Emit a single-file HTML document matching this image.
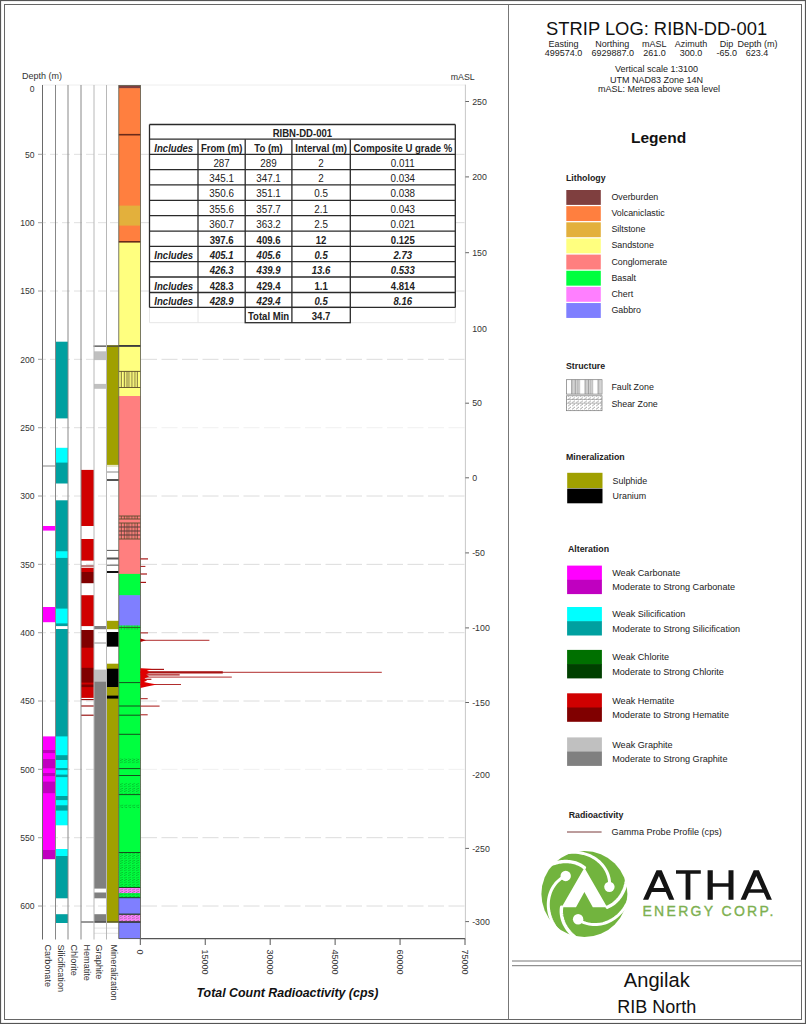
<!DOCTYPE html><html><head><meta charset="utf-8"><style>html,body{margin:0;padding:0;background:#fff;width:806px;height:1024px;overflow:hidden}svg{display:block}text{font-family:"Liberation Sans",sans-serif}</style></head><body>
<svg width="806" height="1024" viewBox="0 0 806 1024">
<defs>
<pattern id="fault" patternUnits="userSpaceOnUse" x="118.8" y="0" width="21" height="40">
<rect width="21" height="40" fill="none"/>
<path d="M2.5 0V40M5.5 0V40M8 0V40M10 0V40M13 0V40M16 0V40M18.5 0V40" stroke="#5a4a2a" stroke-width="0.8"/>
</pattern>
<pattern id="shear" patternUnits="userSpaceOnUse" width="4" height="2.4">
<path d="M0 2.1L3.2 0.9" stroke="#0a4a0a" stroke-width="0.6" opacity="0.6"/>
</pattern>
<pattern id="faultL" patternUnits="userSpaceOnUse" x="566.2" y="0" width="36" height="40">
<rect x="5.6" y="0" width="3.7" height="40" fill="#d4d4d4"/><rect x="19" y="0" width="3.4" height="40" fill="#d4d4d4"/><rect x="32" y="0" width="3.2" height="40" fill="#d4d4d4"/>
<path d="M5.6 0V40M9.3 0V40M11.2 0V40M13 0V40M19 0V40M22.4 0V40M24.2 0V40M26.1 0V40M32 0V40" stroke="#777" stroke-width="0.8"/>
</pattern>
<pattern id="shearL" patternUnits="userSpaceOnUse" width="4" height="3.2">
<path d="M0 2.8L3 0.6" stroke="#777" stroke-width="0.7"/>
</pattern>
</defs>
<rect x="0.5" y="0.5" width="805" height="1023" fill="none" stroke="#555" stroke-width="1.2"/>
<rect x="4.5" y="4.5" width="797" height="1015" fill="none" stroke="#666" stroke-width="1"/>
<line x1="508.5" y1="4.5" x2="508.5" y2="1019.5" stroke="#777" stroke-width="1"/>
<line x1="512" y1="961" x2="801" y2="961" stroke="#777" stroke-width="1"/>
<line x1="512" y1="965.7" x2="801" y2="965.7" stroke="#777" stroke-width="1"/>
<text x="656.6" y="35.2" font-size="18.36" text-anchor="middle" fill="#111">STRIP LOG: RIBN-DD-001</text>
<text x="563.5" y="46.5" font-size="9" text-anchor="middle" fill="#222">Easting</text>
<text x="612.2" y="46.5" font-size="9" text-anchor="middle" fill="#222">Northing</text>
<text x="654.3" y="46.5" font-size="9" text-anchor="middle" fill="#222">mASL</text>
<text x="690.9" y="46.5" font-size="9" text-anchor="middle" fill="#222">Azimuth</text>
<text x="726.5" y="46.5" font-size="9" text-anchor="middle" fill="#222">Dip</text>
<text x="757.4" y="46.5" font-size="9" text-anchor="middle" fill="#222">Depth (m)</text>
<text x="563.4" y="56.2" font-size="9" text-anchor="middle" fill="#222">499574.0</text>
<text x="612.7" y="56.2" font-size="9" text-anchor="middle" fill="#222">6929887.0</text>
<text x="654.5" y="56.2" font-size="9" text-anchor="middle" fill="#222">261.0</text>
<text x="691" y="56.2" font-size="9" text-anchor="middle" fill="#222">300.0</text>
<text x="726.7" y="56.2" font-size="9" text-anchor="middle" fill="#222">-65.0</text>
<text x="757" y="56.2" font-size="9" text-anchor="middle" fill="#222">623.4</text>
<text x="656.6" y="72" font-size="9" text-anchor="middle" fill="#222">Vertical scale 1:3100</text>
<text x="656.6" y="82.6" font-size="9" text-anchor="middle" fill="#222">UTM NAD83 Zone 14N</text>
<text x="659" y="92.3" font-size="9" text-anchor="middle" fill="#222">mASL: Metres above sea level</text>
<text x="631" y="143.4" font-size="15.5" font-weight="bold" fill="#111">Legend</text>
<text x="566" y="180.7" font-size="8.8" font-weight="bold" fill="#222">Lithology</text>
<rect x="566.3" y="190.00" width="34.5" height="14.9" fill="#7F3F3F"/>
<text x="611.4" y="199.90" font-size="8.9" fill="#222">Overburden</text>
<rect x="566.3" y="206.15" width="34.5" height="14.9" fill="#FF7F3F"/>
<text x="611.4" y="216.05" font-size="8.9" fill="#222">Volcaniclastic</text>
<rect x="566.3" y="222.30" width="34.5" height="14.9" fill="#E3B03C"/>
<text x="611.4" y="232.20" font-size="8.9" fill="#222">Siltstone</text>
<rect x="566.3" y="238.45" width="34.5" height="14.9" fill="#FFFF7F"/>
<text x="611.4" y="248.35" font-size="8.9" fill="#222">Sandstone</text>
<rect x="566.3" y="254.60" width="34.5" height="14.9" fill="#FF7F7F"/>
<text x="611.4" y="264.50" font-size="8.9" fill="#222">Conglomerate</text>
<rect x="566.3" y="270.75" width="34.5" height="14.9" fill="#00FF3F"/>
<text x="611.4" y="280.65" font-size="8.9" fill="#222">Basalt</text>
<rect x="566.3" y="286.90" width="34.5" height="14.9" fill="#FF7FFF"/>
<text x="611.4" y="296.80" font-size="8.9" fill="#222">Chert</text>
<rect x="566.3" y="303.05" width="34.5" height="14.9" fill="#7F7FFF"/>
<text x="611.4" y="312.95" font-size="8.9" fill="#222">Gabbro</text>
<text x="566" y="369.3" font-size="8.8" font-weight="bold" fill="#222">Structure</text>
<rect x="566.5" y="379.7" width="35.5" height="14.4" fill="url(#faultL)" stroke="#777" stroke-width="0.7"/>
<rect x="566.5" y="395.8" width="35.5" height="14.9" fill="url(#shearL)" stroke="#777" stroke-width="0.7"/>
<path d="M566.5 399.5H602M566.5 403.2H602" stroke="#8a8a8a" stroke-width="0.6"/>
<text x="611.4" y="389.6" font-size="8.9" fill="#222">Fault Zone</text>
<text x="611.4" y="406.5" font-size="8.9" fill="#222">Shear Zone</text>
<text x="566" y="459.9" font-size="8.8" font-weight="bold" fill="#222">Mineralization</text>
<rect x="567.2" y="472.8" width="35.3" height="15.3" fill="#A0A000"/>
<rect x="567.2" y="488.6" width="35.3" height="14.7" fill="#000"/>
<text x="612.6" y="484" font-size="8.9" fill="#222">Sulphide</text>
<text x="612.6" y="499.3" font-size="8.9" fill="#222">Uranium</text>
<text x="568" y="552.3" font-size="8.8" font-weight="bold" fill="#222">Alteration</text>
<rect x="567.1" y="565.60" width="34.8" height="14.8" fill="#FF00FF"/>
<rect x="567.1" y="579.80" width="34.8" height="14.3" fill="#C000C0"/>
<text x="612.2" y="575.90" font-size="9.1" fill="#222">Weak Carbonate</text>
<text x="612.2" y="590.40" font-size="9.1" fill="#222">Moderate to Strong Carbonate</text>
<rect x="567.1" y="607.00" width="34.8" height="14.8" fill="#00FFFF"/>
<rect x="567.1" y="621.20" width="34.8" height="14.3" fill="#00A0A0"/>
<text x="612.2" y="617.30" font-size="9.1" fill="#222">Weak Silicification</text>
<text x="612.2" y="631.80" font-size="9.1" fill="#222">Moderate to Strong Silicification</text>
<rect x="567.1" y="649.90" width="34.8" height="14.8" fill="#007000"/>
<rect x="567.1" y="664.10" width="34.8" height="14.3" fill="#004000"/>
<text x="612.2" y="660.20" font-size="9.1" fill="#222">Weak Chlorite</text>
<text x="612.2" y="674.70" font-size="9.1" fill="#222">Moderate to Strong Chlorite</text>
<rect x="567.1" y="693.30" width="34.8" height="14.8" fill="#D00000"/>
<rect x="567.1" y="707.50" width="34.8" height="14.3" fill="#800000"/>
<text x="612.2" y="703.60" font-size="9.1" fill="#222">Weak Hematite</text>
<text x="612.2" y="718.10" font-size="9.1" fill="#222">Moderate to Strong Hematite</text>
<rect x="567.1" y="737.40" width="34.8" height="14.8" fill="#C0C0C0"/>
<rect x="567.1" y="751.60" width="34.8" height="14.3" fill="#808080"/>
<text x="612.2" y="747.70" font-size="9.1" fill="#222">Weak Graphite</text>
<text x="612.2" y="762.20" font-size="9.1" fill="#222">Moderate to Strong Graphite</text>
<text x="568.7" y="818.4" font-size="8.8" font-weight="bold" fill="#222">Radioactivity</text>
<line x1="567" y1="832" x2="601.6" y2="832" stroke="#7a3a3a" stroke-width="1"/>
<text x="611.6" y="835" font-size="9.1" fill="#222">Gamma Probe Profile (cps)</text>
<text x="656.8" y="987.3" font-size="20.1" text-anchor="middle" fill="#111">Angilak</text>
<text x="656.8" y="1013.3" font-size="18" text-anchor="middle" fill="#111">RIB North</text>
<line x1="38" y1="154.34" x2="140" y2="154.34" stroke="#dcdcdc" stroke-width="0.9" stroke-dasharray="8 4"/>
<line x1="141" y1="154.34" x2="465" y2="154.34" stroke="#d8d8d8" stroke-width="0.9" stroke-dasharray="16 4.5"/>
<line x1="38" y1="222.67" x2="140" y2="222.67" stroke="#dcdcdc" stroke-width="0.9" stroke-dasharray="8 4"/>
<line x1="141" y1="222.67" x2="465" y2="222.67" stroke="#d8d8d8" stroke-width="0.9" stroke-dasharray="16 4.5"/>
<line x1="38" y1="291.00" x2="140" y2="291.00" stroke="#dcdcdc" stroke-width="0.9" stroke-dasharray="8 4"/>
<line x1="141" y1="291.00" x2="465" y2="291.00" stroke="#d8d8d8" stroke-width="0.9" stroke-dasharray="16 4.5"/>
<line x1="38" y1="359.34" x2="140" y2="359.34" stroke="#dcdcdc" stroke-width="0.9" stroke-dasharray="8 4"/>
<line x1="141" y1="359.34" x2="465" y2="359.34" stroke="#d8d8d8" stroke-width="0.9" stroke-dasharray="16 4.5"/>
<line x1="38" y1="427.68" x2="140" y2="427.68" stroke="#dcdcdc" stroke-width="0.9" stroke-dasharray="8 4"/>
<line x1="141" y1="427.68" x2="465" y2="427.68" stroke="#eeeeee" stroke-width="0.9" stroke-dasharray="16 4.5"/>
<line x1="38" y1="496.01" x2="140" y2="496.01" stroke="#dcdcdc" stroke-width="0.9" stroke-dasharray="8 4"/>
<line x1="141" y1="496.01" x2="465" y2="496.01" stroke="#d8d8d8" stroke-width="0.9" stroke-dasharray="16 4.5"/>
<line x1="38" y1="564.35" x2="140" y2="564.35" stroke="#dcdcdc" stroke-width="0.9" stroke-dasharray="8 4"/>
<line x1="141" y1="564.35" x2="465" y2="564.35" stroke="#d8d8d8" stroke-width="0.9" stroke-dasharray="16 4.5"/>
<line x1="38" y1="632.68" x2="140" y2="632.68" stroke="#dcdcdc" stroke-width="0.9" stroke-dasharray="8 4"/>
<line x1="141" y1="632.68" x2="465" y2="632.68" stroke="#d8d8d8" stroke-width="0.9" stroke-dasharray="16 4.5"/>
<line x1="38" y1="701.01" x2="140" y2="701.01" stroke="#dcdcdc" stroke-width="0.9" stroke-dasharray="8 4"/>
<line x1="141" y1="701.01" x2="465" y2="701.01" stroke="#d8d8d8" stroke-width="0.9" stroke-dasharray="16 4.5"/>
<line x1="38" y1="769.35" x2="140" y2="769.35" stroke="#dcdcdc" stroke-width="0.9" stroke-dasharray="8 4"/>
<line x1="141" y1="769.35" x2="465" y2="769.35" stroke="#eeeeee" stroke-width="0.9" stroke-dasharray="16 4.5"/>
<line x1="38" y1="837.69" x2="140" y2="837.69" stroke="#dcdcdc" stroke-width="0.9" stroke-dasharray="8 4"/>
<line x1="141" y1="837.69" x2="465" y2="837.69" stroke="#d8d8d8" stroke-width="0.9" stroke-dasharray="16 4.5"/>
<line x1="38" y1="906.02" x2="140" y2="906.02" stroke="#dcdcdc" stroke-width="0.9" stroke-dasharray="8 4"/>
<line x1="141" y1="906.02" x2="465" y2="906.02" stroke="#d8d8d8" stroke-width="0.9" stroke-dasharray="16 4.5"/>
<line x1="42" y1="85" x2="465" y2="85" stroke="#ececec" stroke-width="0.9"/>
<line x1="42.5" y1="466.00" x2="55.5" y2="466.00" stroke="#666" stroke-width="0.8"/>
<rect x="42.5" y="526.00" width="13.00" height="4.60" fill="#FF00FF"/>
<rect x="42.5" y="607.00" width="13.00" height="15.20" fill="#FF00FF"/>
<rect x="42.5" y="736.40" width="13.00" height="114.20" fill="#FF00FF"/>
<rect x="42.5" y="750.00" width="13.00" height="3.10" fill="#C000C0"/>
<rect x="42.5" y="759.00" width="13.00" height="9.30" fill="#C000C0"/>
<rect x="42.5" y="773.00" width="13.00" height="3.10" fill="#C000C0"/>
<rect x="42.5" y="781.60" width="13.00" height="11.60" fill="#C000C0"/>
<rect x="42.5" y="850.00" width="13.00" height="9.20" fill="#C000C0"/>
<rect x="55.5" y="341.70" width="12.50" height="76.70" fill="#00A0A0"/>
<rect x="55.5" y="447.80" width="12.50" height="15.40" fill="#00FFFF"/>
<rect x="55.5" y="462.60" width="12.50" height="20.90" fill="#00A0A0"/>
<rect x="55.5" y="500.30" width="12.50" height="51.60" fill="#00A0A0"/>
<rect x="55.5" y="551.30" width="12.50" height="7.20" fill="#00FFFF"/>
<rect x="55.5" y="557.90" width="12.50" height="51.30" fill="#00A0A0"/>
<rect x="55.5" y="608.60" width="12.50" height="15.40" fill="#00FFFF"/>
<rect x="55.5" y="623.40" width="12.50" height="2.70" fill="#00A0A0"/>
<rect x="55.5" y="629.00" width="12.50" height="108.00" fill="#00A0A0"/>
<rect x="55.5" y="736.40" width="12.50" height="88.90" fill="#00FFFF"/>
<rect x="55.5" y="755.20" width="12.50" height="4.80" fill="#00A0A0"/>
<rect x="55.5" y="768.00" width="12.50" height="2.10" fill="#00A0A0"/>
<rect x="55.5" y="774.60" width="12.50" height="2.50" fill="#00A0A0"/>
<rect x="55.5" y="796.00" width="12.50" height="4.10" fill="#00A0A0"/>
<rect x="55.5" y="805.30" width="12.50" height="5.30" fill="#00A0A0"/>
<rect x="55.5" y="849.00" width="12.50" height="7.60" fill="#00FFFF"/>
<rect x="55.5" y="856.00" width="12.50" height="42.30" fill="#00A0A0"/>
<rect x="55.5" y="914.20" width="12.50" height="8.80" fill="#00A0A0"/>
<rect x="81" y="469.90" width="13.00" height="56.10" fill="#D00000"/>
<rect x="81" y="539.00" width="13.00" height="21.60" fill="#D00000"/>
<rect x="81" y="567.80" width="13.00" height="4.80" fill="#D00000"/>
<rect x="81" y="572.00" width="13.00" height="11.20" fill="#800000"/>
<rect x="81" y="595.20" width="13.00" height="30.90" fill="#D00000"/>
<rect x="81" y="630.00" width="13.00" height="18.30" fill="#800000"/>
<rect x="81" y="647.70" width="13.00" height="20.70" fill="#D00000"/>
<rect x="81" y="667.80" width="13.00" height="15.40" fill="#800000"/>
<rect x="81" y="682.60" width="13.00" height="15.30" fill="#D00000"/>
<rect x="81" y="684.50" width="13.00" height="2.60" fill="#800000"/>
<line x1="81" y1="566.00" x2="94" y2="566.00" stroke="#800000" stroke-width="1"/>
<line x1="81" y1="699.60" x2="94" y2="699.60" stroke="#900000" stroke-width="1.1"/>
<line x1="81" y1="706.00" x2="94" y2="706.00" stroke="#900000" stroke-width="1.1"/>
<line x1="81" y1="715.20" x2="94" y2="715.20" stroke="#900000" stroke-width="1.1"/>
<rect x="94" y="351.30" width="12.50" height="8.80" fill="#C0C0C0"/>
<rect x="94" y="383.90" width="12.50" height="4.90" fill="#C0C0C0"/>
<rect x="94" y="626.00" width="12.50" height="3.20" fill="#808080"/>
<rect x="94" y="669.60" width="12.50" height="12.70" fill="#C0C0C0"/>
<rect x="94" y="681.70" width="12.50" height="206.90" fill="#808080"/>
<rect x="94" y="892.50" width="12.50" height="5.80" fill="#808080"/>
<rect x="94" y="914.20" width="12.50" height="8.40" fill="#808080"/>
<line x1="94" y1="643.00" x2="106.5" y2="643.00" stroke="#777" stroke-width="0.8"/>
<rect x="106.5" y="345.20" width="12.30" height="119.70" fill="#A0A000"/>
<rect x="106.5" y="620.80" width="12.30" height="8.40" fill="#A0A000"/>
<rect x="106.5" y="632.00" width="12.30" height="14.60" fill="#000"/>
<rect x="106.5" y="663.70" width="12.30" height="5.60" fill="#A0A000"/>
<rect x="106.5" y="668.70" width="12.30" height="18.90" fill="#000"/>
<rect x="106.5" y="687.00" width="12.30" height="9.20" fill="#A0A000"/>
<rect x="106.5" y="695.60" width="12.30" height="3.60" fill="#000"/>
<rect x="106.5" y="698.60" width="12.30" height="224.00" fill="#A0A000"/>
<line x1="106.5" y1="466.00" x2="118.8" y2="466.00" stroke="#cccc88" stroke-width="1"/>
<line x1="106.5" y1="472.00" x2="118.8" y2="472.00" stroke="#888" stroke-width="1"/>
<line x1="106.5" y1="480.00" x2="118.8" y2="480.00" stroke="#555" stroke-width="2"/>
<line x1="106.5" y1="550.40" x2="118.8" y2="550.40" stroke="#555" stroke-width="1"/>
<line x1="106.5" y1="558.50" x2="118.8" y2="558.50" stroke="#555" stroke-width="2"/>
<line x1="106.5" y1="565.20" x2="118.8" y2="565.20" stroke="#555" stroke-width="1"/>
<line x1="106.5" y1="572.00" x2="118.8" y2="572.00" stroke="#111" stroke-width="2"/>
<line x1="106.5" y1="646.50" x2="118.8" y2="646.50" stroke="#555" stroke-width="0.8"/>
<rect x="118.8" y="85.50" width="21.70" height="3.30" fill="#7F3F3F"/>
<rect x="118.8" y="88.20" width="21.70" height="118.00" fill="#FF7F3F"/>
<rect x="118.8" y="205.60" width="21.70" height="20.60" fill="#E3B03C"/>
<rect x="118.8" y="225.60" width="21.70" height="16.50" fill="#FF7F3F"/>
<rect x="118.8" y="241.50" width="21.70" height="130.50" fill="#FFFF7F"/>
<rect x="118.8" y="371.40" width="21.70" height="16.70" fill="#FFFF7F"/>
<rect x="118.8" y="387.50" width="21.70" height="9.10" fill="#FFFF7F"/>
<rect x="118.8" y="396.00" width="21.70" height="178.50" fill="#FF7F7F"/>
<rect x="118.8" y="573.90" width="21.70" height="21.90" fill="#00FF3F"/>
<rect x="118.8" y="595.20" width="21.70" height="30.90" fill="#7F7FFF"/>
<rect x="118.8" y="625.50" width="21.70" height="272.80" fill="#00FF3F"/>
<rect x="118.8" y="888.00" width="21.70" height="5.10" fill="#FF7FFF"/>
<rect x="118.8" y="897.70" width="21.70" height="17.10" fill="#7F7FFF"/>
<rect x="118.8" y="914.20" width="21.70" height="8.40" fill="#FF7FFF"/>
<rect x="118.8" y="922.00" width="21.70" height="17.10" fill="#7F7FFF"/>
<rect x="118.8" y="371.4" width="21.7" height="16.10" fill="url(#fault)"/>
<line x1="118.8" y1="371.40" x2="140.5" y2="371.40" stroke="#5a4a2a" stroke-width="0.9"/>
<line x1="118.8" y1="387.50" x2="140.5" y2="387.50" stroke="#5a4a2a" stroke-width="0.9"/>
<rect x="118.8" y="516" width="21.7" height="3.00" fill="url(#fault)"/>
<line x1="118.8" y1="516.00" x2="140.5" y2="516.00" stroke="#5a4a2a" stroke-width="0.9"/>
<line x1="118.8" y1="519.00" x2="140.5" y2="519.00" stroke="#5a4a2a" stroke-width="0.9"/>
<rect x="118.8" y="523" width="21.7" height="16.00" fill="url(#fault)"/>
<line x1="118.8" y1="523.00" x2="140.5" y2="523.00" stroke="#5a4a2a" stroke-width="0.9"/>
<line x1="118.8" y1="539.00" x2="140.5" y2="539.00" stroke="#5a4a2a" stroke-width="0.9"/>
<line x1="118.8" y1="527.00" x2="140.5" y2="527.00" stroke="#5a3a3a" stroke-width="1"/>
<line x1="118.8" y1="531.00" x2="140.5" y2="531.00" stroke="#5a3a3a" stroke-width="1"/>
<line x1="118.8" y1="535.00" x2="140.5" y2="535.00" stroke="#5a3a3a" stroke-width="1"/>
<line x1="118.8" y1="627.50" x2="140.5" y2="627.50" stroke="#1a5a1a" stroke-width="0.8"/>
<rect x="118.8" y="625.5" width="21.7" height="4" fill="url(#fault)" opacity="0.6"/>
<rect x="118.8" y="758" width="21.7" height="5.40" fill="url(#shear)"/>
<rect x="118.8" y="783.3" width="21.7" height="10.40" fill="url(#shear)"/>
<rect x="118.8" y="804" width="21.7" height="4.00" fill="url(#shear)"/>
<rect x="118.8" y="852.5" width="21.7" height="45.20" fill="url(#shear)"/>
<rect x="118.8" y="914.2" width="21.7" height="7.80" fill="url(#shear)"/>
<line x1="118.8" y1="134.70" x2="140.5" y2="134.70" stroke="#6a2a1a" stroke-width="1.6"/>
<line x1="118.8" y1="241.80" x2="140.5" y2="241.80" stroke="#6a2a1a" stroke-width="1.6"/>
<line x1="118.8" y1="345.80" x2="140.5" y2="345.80" stroke="#333" stroke-width="1.6"/>
<line x1="118.8" y1="682.60" x2="140.5" y2="682.60" stroke="#1a3a1a" stroke-width="0.9"/>
<line x1="118.8" y1="706.00" x2="140.5" y2="706.00" stroke="#1a3a1a" stroke-width="0.9"/>
<line x1="118.8" y1="715.20" x2="140.5" y2="715.20" stroke="#1a3a1a" stroke-width="0.9"/>
<line x1="118.8" y1="734.30" x2="140.5" y2="734.30" stroke="#1a3a1a" stroke-width="0.9"/>
<line x1="118.8" y1="768.60" x2="140.5" y2="768.60" stroke="#1a3a1a" stroke-width="0.9"/>
<line x1="118.8" y1="775.50" x2="140.5" y2="775.50" stroke="#1a3a1a" stroke-width="0.9"/>
<line x1="118.8" y1="794.60" x2="140.5" y2="794.60" stroke="#1a3a1a" stroke-width="0.9"/>
<line x1="118.8" y1="852.50" x2="140.5" y2="852.50" stroke="#1a3a1a" stroke-width="0.9"/>
<line x1="118.8" y1="887.50" x2="140.5" y2="887.50" stroke="#1a3a1a" stroke-width="0.9"/>
<line x1="118.8" y1="897.70" x2="140.5" y2="897.70" stroke="#1a3a1a" stroke-width="0.9"/>
<line x1="118.8" y1="914.20" x2="140.5" y2="914.20" stroke="#1a3a1a" stroke-width="1.2"/>
<line x1="118.8" y1="922.00" x2="140.5" y2="922.00" stroke="#1a3a1a" stroke-width="1.2"/>
<line x1="93.5" y1="346.10" x2="140.5" y2="346.10" stroke="#444" stroke-width="1.4"/>
<line x1="81" y1="922.00" x2="141" y2="922.00" stroke="#333" stroke-width="1"/>
<line x1="94" y1="928.10" x2="118.8" y2="928.10" stroke="#ddd" stroke-width="0.8"/>
<line x1="94" y1="933.30" x2="118.8" y2="933.30" stroke="#ddd" stroke-width="0.8"/>
<line x1="42.5" y1="85" x2="42.5" y2="939.5" stroke="#6a6a6a" stroke-width="1"/>
<line x1="55.5" y1="85" x2="55.5" y2="939.5" stroke="#888" stroke-width="1"/>
<line x1="68" y1="85" x2="68" y2="939.5" stroke="#888" stroke-width="1"/>
<line x1="81" y1="85" x2="81" y2="939.5" stroke="#888" stroke-width="1"/>
<line x1="94" y1="85" x2="94" y2="939.5" stroke="#b8b8b8" stroke-width="1"/>
<line x1="106.5" y1="85" x2="106.5" y2="939.5" stroke="#b8b8b8" stroke-width="1"/>
<rect x="118.8" y="85.5" width="21.7" height="853" fill="none" stroke="#5a5a4a" stroke-width="0.8"/>
<text x="34.5" y="91.70" font-size="8.6" text-anchor="end" fill="#333">0</text>
<text x="34.5" y="157.53" font-size="8.6" text-anchor="end" fill="#333">50</text>
<line x1="38" y1="154.34" x2="42.5" y2="154.34" stroke="#999" stroke-width="0.8"/>
<text x="34.5" y="225.87" font-size="8.6" text-anchor="end" fill="#333">100</text>
<line x1="38" y1="222.67" x2="42.5" y2="222.67" stroke="#999" stroke-width="0.8"/>
<text x="34.5" y="294.20" font-size="8.6" text-anchor="end" fill="#333">150</text>
<line x1="38" y1="291.00" x2="42.5" y2="291.00" stroke="#999" stroke-width="0.8"/>
<text x="34.5" y="362.54" font-size="8.6" text-anchor="end" fill="#333">200</text>
<line x1="38" y1="359.34" x2="42.5" y2="359.34" stroke="#999" stroke-width="0.8"/>
<text x="34.5" y="430.88" font-size="8.6" text-anchor="end" fill="#333">250</text>
<line x1="38" y1="427.68" x2="42.5" y2="427.68" stroke="#999" stroke-width="0.8"/>
<text x="34.5" y="499.21" font-size="8.6" text-anchor="end" fill="#333">300</text>
<line x1="38" y1="496.01" x2="42.5" y2="496.01" stroke="#999" stroke-width="0.8"/>
<text x="34.5" y="567.55" font-size="8.6" text-anchor="end" fill="#333">350</text>
<line x1="38" y1="564.35" x2="42.5" y2="564.35" stroke="#999" stroke-width="0.8"/>
<text x="34.5" y="635.88" font-size="8.6" text-anchor="end" fill="#333">400</text>
<line x1="38" y1="632.68" x2="42.5" y2="632.68" stroke="#999" stroke-width="0.8"/>
<text x="34.5" y="704.22" font-size="8.6" text-anchor="end" fill="#333">450</text>
<line x1="38" y1="701.01" x2="42.5" y2="701.01" stroke="#999" stroke-width="0.8"/>
<text x="34.5" y="772.55" font-size="8.6" text-anchor="end" fill="#333">500</text>
<line x1="38" y1="769.35" x2="42.5" y2="769.35" stroke="#999" stroke-width="0.8"/>
<text x="34.5" y="840.89" font-size="8.6" text-anchor="end" fill="#333">550</text>
<line x1="38" y1="837.69" x2="42.5" y2="837.69" stroke="#999" stroke-width="0.8"/>
<text x="34.5" y="909.22" font-size="8.6" text-anchor="end" fill="#333">600</text>
<line x1="38" y1="906.02" x2="42.5" y2="906.02" stroke="#999" stroke-width="0.8"/>
<text x="21.9" y="78.9" font-size="9" fill="#333">Depth (m)</text>
<line x1="140.5" y1="938.60" x2="465.5" y2="938.60" stroke="#555" stroke-width="1.2"/>
<line x1="140.30" y1="938.6" x2="140.30" y2="945" stroke="#555" stroke-width="1"/>
<text transform="translate(137.10,949.5) rotate(90)" font-size="9" fill="#333">0</text>
<line x1="205.24" y1="938.6" x2="205.24" y2="945" stroke="#555" stroke-width="1"/>
<text transform="translate(202.04,949.5) rotate(90)" font-size="9" fill="#333">15000</text>
<line x1="270.18" y1="938.6" x2="270.18" y2="945" stroke="#555" stroke-width="1"/>
<text transform="translate(266.98,949.5) rotate(90)" font-size="9" fill="#333">30000</text>
<line x1="335.12" y1="938.6" x2="335.12" y2="945" stroke="#555" stroke-width="1"/>
<text transform="translate(331.92,949.5) rotate(90)" font-size="9" fill="#333">45000</text>
<line x1="400.06" y1="938.6" x2="400.06" y2="945" stroke="#555" stroke-width="1"/>
<text transform="translate(396.86,949.5) rotate(90)" font-size="9" fill="#333">60000</text>
<line x1="465.00" y1="938.6" x2="465.00" y2="945" stroke="#555" stroke-width="1"/>
<text transform="translate(461.80,949.5) rotate(90)" font-size="9" fill="#333">75000</text>
<text x="287.5" y="997.4" font-size="12.4" font-weight="bold" font-style="italic" text-anchor="middle" fill="#111">Total Count Radioactivity (cps)</text>
<text transform="translate(44.50,944.5) rotate(90)" font-size="9.1" fill="#333">Carbonate</text>
<text transform="translate(58.10,944.5) rotate(90)" font-size="9.1" fill="#333">Silicification</text>
<text transform="translate(71.10,944.5) rotate(90)" font-size="9.1" fill="#333">Chlorite</text>
<text transform="translate(84.20,944.5) rotate(90)" font-size="9.1" fill="#333">Hematite</text>
<text transform="translate(96.00,944.5) rotate(90)" font-size="9.1" fill="#333">Graphite</text>
<text transform="translate(110.80,944.5) rotate(90)" font-size="9.1" fill="#333">Mineralization</text>
<line x1="465.4" y1="84.6" x2="465.4" y2="938.6" stroke="#c8c8c8" stroke-width="1"/>
<text x="450.8" y="79.8" font-size="8.8" fill="#333">mASL</text>
<line x1="465.4" y1="101.50" x2="469" y2="101.50" stroke="#555" stroke-width="0.9"/>
<text x="472.2" y="104.70" font-size="8.8" fill="#333">250</text>
<line x1="465.4" y1="176.90" x2="469" y2="176.90" stroke="#555" stroke-width="0.9"/>
<text x="472.2" y="180.10" font-size="8.8" fill="#333">200</text>
<line x1="465.4" y1="252.70" x2="469" y2="252.70" stroke="#555" stroke-width="0.9"/>
<text x="472.2" y="255.90" font-size="8.8" fill="#333">150</text>
<text x="472.2" y="331.70" font-size="8.8" fill="#333">100</text>
<line x1="465.4" y1="403.20" x2="469" y2="403.20" stroke="#555" stroke-width="0.9"/>
<text x="472.2" y="406.40" font-size="8.8" fill="#333">50</text>
<line x1="465.4" y1="477.80" x2="469" y2="477.80" stroke="#555" stroke-width="0.9"/>
<text x="472.2" y="481.00" font-size="8.8" fill="#333">0</text>
<line x1="465.4" y1="552.90" x2="469" y2="552.90" stroke="#555" stroke-width="0.9"/>
<text x="472.2" y="556.10" font-size="8.8" fill="#333">-50</text>
<line x1="465.4" y1="627.90" x2="469" y2="627.90" stroke="#555" stroke-width="0.9"/>
<text x="472.2" y="631.10" font-size="8.8" fill="#333">-100</text>
<line x1="465.4" y1="702.50" x2="469" y2="702.50" stroke="#555" stroke-width="0.9"/>
<text x="472.2" y="705.70" font-size="8.8" fill="#333">-150</text>
<text x="472.2" y="778.40" font-size="8.8" fill="#333">-200</text>
<line x1="465.4" y1="848.40" x2="469" y2="848.40" stroke="#555" stroke-width="0.9"/>
<text x="472.2" y="851.60" font-size="8.8" fill="#333">-250</text>
<line x1="465.4" y1="921.60" x2="469" y2="921.60" stroke="#555" stroke-width="0.9"/>
<text x="472.2" y="924.80" font-size="8.8" fill="#333">-300</text>
<line x1="140.5" y1="558.9" x2="148" y2="558.9" stroke="#A81515" stroke-width="1.2"/>
<line x1="140.5" y1="566.4" x2="145.4" y2="566.4" stroke="#A81515" stroke-width="1"/>
<line x1="140.5" y1="574" x2="147" y2="574" stroke="#A81515" stroke-width="1.2"/>
<line x1="140.5" y1="582.4" x2="146" y2="582.4" stroke="#A81515" stroke-width="1.2"/>
<line x1="140.5" y1="632.9" x2="148" y2="632.9" stroke="#A81515" stroke-width="1"/>
<line x1="140.5" y1="640.3" x2="209.4" y2="640.3" stroke="#A81515" stroke-width="0.9"/>
<line x1="140.5" y1="669.4" x2="164" y2="669.4" stroke="#A81515" stroke-width="1.2"/>
<line x1="140.5" y1="672.3" x2="222.8" y2="672.3" stroke="#A81515" stroke-width="2.2"/>
<line x1="140.5" y1="672.3" x2="381.8" y2="672.3" stroke="#A81515" stroke-width="0.9"/>
<line x1="140.5" y1="674.9" x2="179.7" y2="674.9" stroke="#A81515" stroke-width="1.2"/>
<line x1="140.5" y1="677.1" x2="231.8" y2="677.1" stroke="#A81515" stroke-width="0.9"/>
<line x1="140.5" y1="679.3" x2="151.4" y2="679.3" stroke="#A81515" stroke-width="1.2"/>
<line x1="140.5" y1="684.5" x2="181" y2="684.5" stroke="#A81515" stroke-width="0.9"/>
<line x1="140.5" y1="698.7" x2="147.7" y2="698.7" stroke="#A81515" stroke-width="1"/>
<line x1="140.5" y1="706.1" x2="159.6" y2="706.1" stroke="#A81515" stroke-width="1"/>
<line x1="140.5" y1="714.8" x2="147.7" y2="714.8" stroke="#A81515" stroke-width="1"/>
<path d="M140.5 668.3 L152 669 L147 670.8 L150 672.5 L146 674.5 L149 676.5 L144.5 678.5 L147 680.5 L144 682 L150 683.3 L157 684.6 L147 686.6 L140.5 688Z" fill="#E00000"/>
<path d="M140.5 638.5 L146 640.3 L140.5 642Z" fill="#B00000"/>
<rect x="149.5" y="124.5" width="305.8" height="198.2" fill="#fff"/>
<line x1="149.5" y1="322.7" x2="245.2" y2="322.7" stroke="#e6e6e6" stroke-width="1"/>
<line x1="350.3" y1="322.7" x2="455.3" y2="322.7" stroke="#e6e6e6" stroke-width="1"/>
<line x1="149.5" y1="307.4" x2="149.5" y2="322.7" stroke="#e6e6e6" stroke-width="1"/>
<line x1="198" y1="307.4" x2="198" y2="322.7" stroke="#e6e6e6" stroke-width="1"/>
<line x1="455.3" y1="307.4" x2="455.3" y2="322.7" stroke="#e6e6e6" stroke-width="1"/>
<line x1="149.5" y1="124.5" x2="455.3" y2="124.5" stroke="#2a2a2a" stroke-width="1.3"/>
<line x1="149.5" y1="139.2" x2="455.3" y2="139.2" stroke="#2a2a2a" stroke-width="1.3"/>
<line x1="149.5" y1="154.3" x2="455.3" y2="154.3" stroke="#2a2a2a" stroke-width="1.3"/>
<line x1="149.5" y1="169.6" x2="455.3" y2="169.6" stroke="#2a2a2a" stroke-width="1.3"/>
<line x1="149.5" y1="184.9" x2="455.3" y2="184.9" stroke="#2a2a2a" stroke-width="1.3"/>
<line x1="149.5" y1="200.4" x2="455.3" y2="200.4" stroke="#2a2a2a" stroke-width="1.3"/>
<line x1="149.5" y1="215.6" x2="455.3" y2="215.6" stroke="#2a2a2a" stroke-width="1.3"/>
<line x1="149.5" y1="231.1" x2="455.3" y2="231.1" stroke="#2a2a2a" stroke-width="1.3"/>
<line x1="149.5" y1="246.4" x2="455.3" y2="246.4" stroke="#2a2a2a" stroke-width="1.3"/>
<line x1="149.5" y1="261.7" x2="455.3" y2="261.7" stroke="#2a2a2a" stroke-width="1.3"/>
<line x1="149.5" y1="277" x2="455.3" y2="277" stroke="#2a2a2a" stroke-width="1.3"/>
<line x1="149.5" y1="292.5" x2="455.3" y2="292.5" stroke="#2a2a2a" stroke-width="1.3"/>
<line x1="149.5" y1="307.4" x2="455.3" y2="307.4" stroke="#2a2a2a" stroke-width="1.3"/>
<line x1="149.5" y1="124.5" x2="149.5" y2="307.4" stroke="#2a2a2a" stroke-width="1.3"/>
<line x1="455.3" y1="124.5" x2="455.3" y2="307.4" stroke="#2a2a2a" stroke-width="1.3"/>
<line x1="198" y1="139.2" x2="198" y2="307.4" stroke="#2a2a2a" stroke-width="1.3"/>
<line x1="245.2" y1="139.2" x2="245.2" y2="307.4" stroke="#2a2a2a" stroke-width="1.3"/>
<line x1="291.9" y1="139.2" x2="291.9" y2="307.4" stroke="#2a2a2a" stroke-width="1.3"/>
<line x1="350.3" y1="139.2" x2="350.3" y2="307.4" stroke="#2a2a2a" stroke-width="1.3"/>
<rect x="245.2" y="307.4" width="105.1" height="15.3" fill="none" stroke="#2a2a2a" stroke-width="1.3"/>
<line x1="291.9" y1="307.4" x2="291.9" y2="322.7" stroke="#2a2a2a" stroke-width="1.3"/>
<text transform="translate(302.4,137.00) scale(0.92,1)" font-size="10.4" font-weight="bold" text-anchor="middle" fill="#222">RIBN-DD-001</text>
<text transform="translate(173.75,151.70) scale(0.92,1)" font-size="10.4" font-weight="bold" font-style="italic" text-anchor="middle" fill="#222">Includes</text>
<text transform="translate(221.60,151.70) scale(0.92,1)" font-size="10.4" font-weight="bold" font-style="normal" text-anchor="middle" fill="#222">From (m)</text>
<text transform="translate(268.55,151.70) scale(0.92,1)" font-size="10.4" font-weight="bold" font-style="normal" text-anchor="middle" fill="#222">To (m)</text>
<text transform="translate(321.10,151.70) scale(0.92,1)" font-size="10.4" font-weight="bold" font-style="normal" text-anchor="middle" fill="#222">Interval (m)</text>
<text transform="translate(402.80,151.70) scale(0.92,1)" font-size="10.4" font-weight="bold" font-style="normal" text-anchor="middle" fill="#222">Composite U grade %</text>
<text transform="translate(221.60,166.80) scale(0.945,1)" font-size="10.4" font-weight="normal" font-style="normal" text-anchor="middle" fill="#222">287</text>
<text transform="translate(268.55,166.80) scale(0.945,1)" font-size="10.4" font-weight="normal" font-style="normal" text-anchor="middle" fill="#222">289</text>
<text transform="translate(321.10,166.80) scale(0.945,1)" font-size="10.4" font-weight="normal" font-style="normal" text-anchor="middle" fill="#222">2</text>
<text transform="translate(402.80,166.80) scale(0.945,1)" font-size="10.4" font-weight="normal" font-style="normal" text-anchor="middle" fill="#222">0.011</text>
<text transform="translate(221.60,182.10) scale(0.945,1)" font-size="10.4" font-weight="normal" font-style="normal" text-anchor="middle" fill="#222">345.1</text>
<text transform="translate(268.55,182.10) scale(0.945,1)" font-size="10.4" font-weight="normal" font-style="normal" text-anchor="middle" fill="#222">347.1</text>
<text transform="translate(321.10,182.10) scale(0.945,1)" font-size="10.4" font-weight="normal" font-style="normal" text-anchor="middle" fill="#222">2</text>
<text transform="translate(402.80,182.10) scale(0.945,1)" font-size="10.4" font-weight="normal" font-style="normal" text-anchor="middle" fill="#222">0.034</text>
<text transform="translate(221.60,197.40) scale(0.945,1)" font-size="10.4" font-weight="normal" font-style="normal" text-anchor="middle" fill="#222">350.6</text>
<text transform="translate(268.55,197.40) scale(0.945,1)" font-size="10.4" font-weight="normal" font-style="normal" text-anchor="middle" fill="#222">351.1</text>
<text transform="translate(321.10,197.40) scale(0.945,1)" font-size="10.4" font-weight="normal" font-style="normal" text-anchor="middle" fill="#222">0.5</text>
<text transform="translate(402.80,197.40) scale(0.945,1)" font-size="10.4" font-weight="normal" font-style="normal" text-anchor="middle" fill="#222">0.038</text>
<text transform="translate(221.60,212.90) scale(0.945,1)" font-size="10.4" font-weight="normal" font-style="normal" text-anchor="middle" fill="#222">355.6</text>
<text transform="translate(268.55,212.90) scale(0.945,1)" font-size="10.4" font-weight="normal" font-style="normal" text-anchor="middle" fill="#222">357.7</text>
<text transform="translate(321.10,212.90) scale(0.945,1)" font-size="10.4" font-weight="normal" font-style="normal" text-anchor="middle" fill="#222">2.1</text>
<text transform="translate(402.80,212.90) scale(0.945,1)" font-size="10.4" font-weight="normal" font-style="normal" text-anchor="middle" fill="#222">0.043</text>
<text transform="translate(221.60,228.10) scale(0.945,1)" font-size="10.4" font-weight="normal" font-style="normal" text-anchor="middle" fill="#222">360.7</text>
<text transform="translate(268.55,228.10) scale(0.945,1)" font-size="10.4" font-weight="normal" font-style="normal" text-anchor="middle" fill="#222">363.2</text>
<text transform="translate(321.10,228.10) scale(0.945,1)" font-size="10.4" font-weight="normal" font-style="normal" text-anchor="middle" fill="#222">2.5</text>
<text transform="translate(402.80,228.10) scale(0.945,1)" font-size="10.4" font-weight="normal" font-style="normal" text-anchor="middle" fill="#222">0.021</text>
<text transform="translate(221.60,243.60) scale(0.92,1)" font-size="10.4" font-weight="bold" font-style="normal" text-anchor="middle" fill="#222">397.6</text>
<text transform="translate(268.55,243.60) scale(0.92,1)" font-size="10.4" font-weight="bold" font-style="normal" text-anchor="middle" fill="#222">409.6</text>
<text transform="translate(321.10,243.60) scale(0.92,1)" font-size="10.4" font-weight="bold" font-style="normal" text-anchor="middle" fill="#222">12</text>
<text transform="translate(402.80,243.60) scale(0.92,1)" font-size="10.4" font-weight="bold" font-style="normal" text-anchor="middle" fill="#222">0.125</text>
<text transform="translate(173.75,258.90) scale(0.92,1)" font-size="10.4" font-weight="bold" font-style="italic" text-anchor="middle" fill="#222">Includes</text>
<text transform="translate(221.60,258.90) scale(0.92,1)" font-size="10.4" font-weight="bold" font-style="italic" text-anchor="middle" fill="#222">405.1</text>
<text transform="translate(268.55,258.90) scale(0.92,1)" font-size="10.4" font-weight="bold" font-style="italic" text-anchor="middle" fill="#222">405.6</text>
<text transform="translate(321.10,258.90) scale(0.92,1)" font-size="10.4" font-weight="bold" font-style="italic" text-anchor="middle" fill="#222">0.5</text>
<text transform="translate(402.80,258.90) scale(0.92,1)" font-size="10.4" font-weight="bold" font-style="italic" text-anchor="middle" fill="#222">2.73</text>
<text transform="translate(221.60,274.20) scale(0.92,1)" font-size="10.4" font-weight="bold" font-style="italic" text-anchor="middle" fill="#222">426.3</text>
<text transform="translate(268.55,274.20) scale(0.92,1)" font-size="10.4" font-weight="bold" font-style="italic" text-anchor="middle" fill="#222">439.9</text>
<text transform="translate(321.10,274.20) scale(0.92,1)" font-size="10.4" font-weight="bold" font-style="italic" text-anchor="middle" fill="#222">13.6</text>
<text transform="translate(402.80,274.20) scale(0.92,1)" font-size="10.4" font-weight="bold" font-style="italic" text-anchor="middle" fill="#222">0.533</text>
<text transform="translate(173.75,289.50) scale(0.92,1)" font-size="10.4" font-weight="bold" font-style="italic" text-anchor="middle" fill="#222">Includes</text>
<text transform="translate(221.60,289.50) scale(0.92,1)" font-size="10.4" font-weight="bold" font-style="normal" text-anchor="middle" fill="#222">428.3</text>
<text transform="translate(268.55,289.50) scale(0.92,1)" font-size="10.4" font-weight="bold" font-style="normal" text-anchor="middle" fill="#222">429.4</text>
<text transform="translate(321.10,289.50) scale(0.92,1)" font-size="10.4" font-weight="bold" font-style="normal" text-anchor="middle" fill="#222">1.1</text>
<text transform="translate(402.80,289.50) scale(0.92,1)" font-size="10.4" font-weight="bold" font-style="normal" text-anchor="middle" fill="#222">4.814</text>
<text transform="translate(173.75,305.00) scale(0.92,1)" font-size="10.4" font-weight="bold" font-style="italic" text-anchor="middle" fill="#222">Includes</text>
<text transform="translate(221.60,305.00) scale(0.92,1)" font-size="10.4" font-weight="bold" font-style="italic" text-anchor="middle" fill="#222">428.9</text>
<text transform="translate(268.55,305.00) scale(0.92,1)" font-size="10.4" font-weight="bold" font-style="italic" text-anchor="middle" fill="#222">429.4</text>
<text transform="translate(321.10,305.00) scale(0.92,1)" font-size="10.4" font-weight="bold" font-style="italic" text-anchor="middle" fill="#222">0.5</text>
<text transform="translate(402.80,305.00) scale(0.92,1)" font-size="10.4" font-weight="bold" font-style="italic" text-anchor="middle" fill="#222">8.16</text>
<text transform="translate(268.55,319.90) scale(0.92,1)" font-size="10.4" font-weight="bold" font-style="normal" text-anchor="middle" fill="#222">Total Min</text>
<text transform="translate(321.10,319.90) scale(0.92,1)" font-size="10.4" font-weight="bold" font-style="normal" text-anchor="middle" fill="#222">34.7</text>
<g>
<circle cx="584.4" cy="894.0" r="43" fill="#72B43E"/>
<path d="M584.40 867.70 L583.57 867.05 L582.70 866.43 L581.79 865.84 L580.85 865.28 L579.86 864.75 L578.84 864.26 L577.79 863.80 L576.70 863.38 L575.59 862.99 L574.44 862.65 L573.26 862.35 L572.05 862.09 L570.82 861.88 L569.56 861.72 L568.28 861.60 L566.98 861.53 L565.66 861.51 L564.32 861.54 L562.97 861.62 L561.60 861.76 L560.22 861.95 L558.83 862.20 L557.44 862.50 L556.04 862.85 L554.64 863.27 L553.23 863.74 L551.83 864.27 L550.43 864.85 L549.03 865.50 L547.65 866.20" fill="none" stroke="#fff" stroke-width="3.4" stroke-linecap="round"/>
<path d="M565.70 875.94 L564.21 876.63 L562.75 877.43 L561.31 878.34 L559.90 879.36 L558.54 880.50 L557.23 881.74 L555.98 883.09 L554.80 884.54 L553.69 886.10 L552.66 887.75 L551.73 889.49 L550.89 891.32 L550.16 893.23 L549.54 895.21 L549.03 897.27 L548.65 899.38 L548.39 901.56 L548.27 903.77 L548.29 906.03 L548.45 908.31 L548.75 910.62 L549.21 912.93 L549.81 915.25 L550.56 917.56 L551.47 919.85 L552.53 922.12 L553.74 924.34 L555.11 926.52 L556.62 928.64 L558.28 930.70" fill="none" stroke="#fff" stroke-width="3.0" stroke-linecap="round"/>
<circle cx="565.70" cy="875.94" r="5.2" fill="#fff"/>
<path d="M607.18 907.15 L608.15 906.75 L609.12 906.31 L610.09 905.82 L611.05 905.28 L612.00 904.69 L612.93 904.06 L613.86 903.38 L614.77 902.65 L615.66 901.87 L616.53 901.04 L617.38 900.17 L618.21 899.26 L619.01 898.30 L619.78 897.29 L620.52 896.24 L621.23 895.15 L621.91 894.02 L622.55 892.84 L623.15 891.63 L623.72 890.38 L624.24 889.09 L624.73 887.76 L625.16 886.40 L625.55 885.01 L625.90 883.59 L626.19 882.14 L626.44 880.66 L626.63 879.15 L626.76 877.62 L626.85 876.07" fill="none" stroke="#fff" stroke-width="3.4" stroke-linecap="round"/>
<path d="M609.39 886.83 L609.54 885.20 L609.58 883.53 L609.51 881.83 L609.33 880.10 L609.02 878.36 L608.60 876.60 L608.06 874.84 L607.39 873.09 L606.60 871.36 L605.68 869.64 L604.64 867.96 L603.48 866.32 L602.19 864.73 L600.78 863.20 L599.25 861.73 L597.61 860.35 L595.86 859.04 L594.00 857.83 L592.04 856.72 L589.98 855.71 L587.83 854.82 L585.60 854.06 L583.29 853.42 L580.92 852.92 L578.48 852.55 L575.99 852.34 L573.45 852.28 L570.88 852.37 L568.29 852.62 L565.68 853.03" fill="none" stroke="#fff" stroke-width="3.0" stroke-linecap="round"/>
<circle cx="609.39" cy="886.83" r="5.2" fill="#fff"/>
<path d="M561.62 907.15 L561.48 908.19 L561.38 909.25 L561.32 910.34 L561.31 911.44 L561.34 912.55 L561.42 913.68 L561.55 914.82 L561.73 915.98 L561.96 917.14 L562.23 918.30 L562.56 919.47 L562.94 920.65 L563.38 921.82 L563.86 922.99 L564.40 924.16 L564.99 925.32 L565.63 926.48 L566.33 927.62 L567.08 928.75 L567.88 929.86 L568.73 930.96 L569.64 932.04 L570.60 933.10 L571.61 934.13 L572.67 935.14 L573.78 936.12 L574.94 937.07 L576.15 937.99 L577.40 938.88 L578.70 939.73" fill="none" stroke="#fff" stroke-width="3.4" stroke-linecap="round"/>
<path d="M578.11 919.23 L579.45 920.17 L580.87 921.04 L582.38 921.83 L583.97 922.54 L585.64 923.15 L587.37 923.66 L589.16 924.07 L591.01 924.37 L592.91 924.55 L594.85 924.61 L596.83 924.55 L598.83 924.36 L600.85 924.04 L602.88 923.59 L604.92 923.00 L606.94 922.27 L608.95 921.40 L610.93 920.40 L612.87 919.26 L614.77 917.98 L616.61 916.56 L618.39 915.01 L620.10 913.33 L621.72 911.52 L623.25 909.59 L624.69 907.54 L626.01 905.38 L627.21 903.11 L628.29 900.74 L629.24 898.27" fill="none" stroke="#fff" stroke-width="3.0" stroke-linecap="round"/>
<circle cx="578.11" cy="919.23" r="5.2" fill="#fff"/>
<path d="M584.40 867.70 L607.18 907.15 L592.8 907.15 L584.4 892 L576 907.15 L561.62 907.15Z" fill="#fff"/>
</g>
<g fill="#141414">
<path d="M643 899.8 L656.5 870.2 L661.7 870.2 L674.3 899.8 L669.1 899.8 L658.9 876 L648.3 899.8Z"/>
<path d="M651.5 888 L666 888 L667.6 891.9 L649.8 891.9Z"/>
<path d="M676 870.2 L700.8 870.2 L700.8 873.8 L690.4 873.8 L690.4 899.8 L685.6 899.8 L685.6 873.8 L676 873.8Z"/>
<path d="M707.6 870.2 L712.8 870.2 L712.8 883.2 L728.5 883.2 L728.5 870.2 L733.5 870.2 L733.5 899.8 L728.5 899.8 L728.5 886.8 L712.8 886.8 L712.8 899.8 L707.6 899.8Z"/>
<path d="M740.6 899.8 L753.7 870.2 L758.9 870.2 L771.9 899.8 L766.9 899.8 L756.3 876 L745.8 899.8Z"/>
<path d="M749.5 889.3 L763.2 889.3 L764.8 892.8 L747.9 892.8Z"/>
</g>
<text x="642.4" y="916.3" font-size="14" fill="#7DB050" stroke="#7DB050" stroke-width="0.35" letter-spacing="2.33">ENERGY CORP.</text>
</svg></body></html>
